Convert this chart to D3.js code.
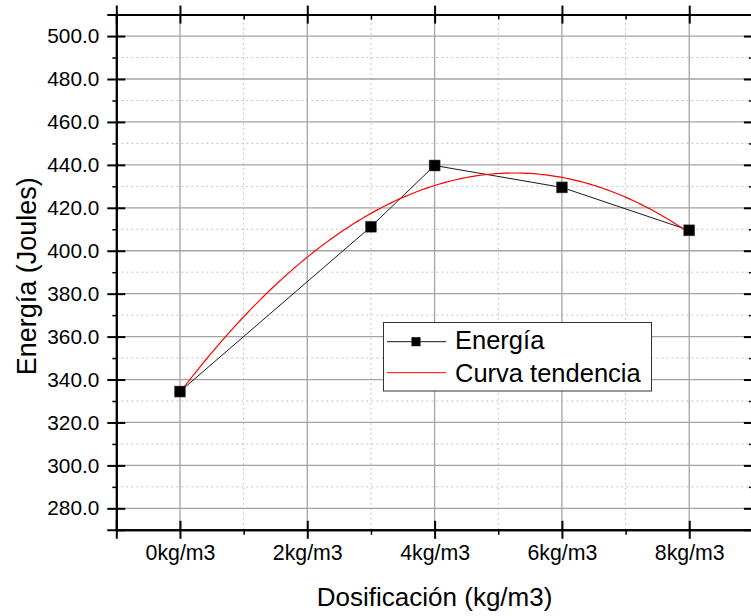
<!DOCTYPE html>
<html>
<head>
<meta charset="utf-8">
<script src="https://cdn.jsdelivr.net/npm/d3@7"></script>
<style>
  html, body { margin: 0; padding: 0; background: #fff; }
  svg { display: block; font-family: "Liberation Sans", Arial, sans-serif; }
</style>
</head>
<body>
<svg id="chart" width="751" height="616"></svg>
<script>
// Dosage (kg/m3) and measured impact energy (J)
const doses = [0, 3, 4, 6, 8];
const energy = [334.4, 411.2, 439.7, 429.5, 409.5];

// Axis ticks
const xTickValues = [0, 2, 4, 6, 8];
const xTickLabels = ["0kg/m3", "2kg/m3", "4kg/m3", "6kg/m3", "8kg/m3"];
const xMinorValues = [1, 3, 5, 7];
const yTickValues = [280, 300, 320, 340, 360, 380, 400, 420, 440, 460, 480, 500];
const yMinorValues = [290, 310, 330, 350, 370, 390, 410, 430, 450, 470, 490];

const seriesNames = ["Energía", "Curva tendencia"];

const svg = d3.select("#chart");
const x = d3.scaleLinear().domain([-1, 9]).range([116.3, 752.9]);
const y = d3.scaleLinear().domain([270, 510]).range([529.8, 14.6]);
const [x0, x1] = x.range();
const [y0, y1] = y.range();

// Grid: minor dotted, major solid
const grid = svg.append("g");
grid.selectAll(".gy-minor").data(yMinorValues).join("line")
  .attr("x1", x0).attr("x2", x1).attr("y1", d => y(d)).attr("y2", d => y(d))
  .attr("stroke", "#c4c4c4").attr("stroke-width", 1).attr("stroke-dasharray", "2,3");
grid.selectAll(".gx-minor").data(xMinorValues).join("line")
  .attr("y1", y0).attr("y2", y1).attr("x1", d => x(d)).attr("x2", d => x(d))
  .attr("stroke", "#c4c4c4").attr("stroke-width", 1).attr("stroke-dasharray", "2,3");
grid.selectAll(".gy-major").data(yTickValues).join("line")
  .attr("x1", x0).attr("x2", x1).attr("y1", d => y(d)).attr("y2", d => y(d))
  .attr("stroke", "#a3a3a3").attr("stroke-width", 1.3);
grid.selectAll(".gx-major").data(xTickValues).join("line")
  .attr("y1", y0).attr("y2", y1).attr("x1", d => x(d)).attr("x2", d => x(d))
  .attr("stroke", "#a3a3a3").attr("stroke-width", 1.3);

// Quadratic least-squares trend of the energy values
function quadFit(xs, ys) {
  let s = [0, 0, 0, 0, 0], t = [0, 0, 0];
  xs.forEach((xv, i) => {
    for (let k = 0; k < 5; k++) s[k] += Math.pow(xv, k);
    for (let k = 0; k < 3; k++) t[k] += Math.pow(xv, k) * ys[i];
  });
  const M = [[s[0], s[1], s[2], t[0]], [s[1], s[2], s[3], t[1]], [s[2], s[3], s[4], t[2]]];
  for (let i = 0; i < 3; i++) {
    for (let j = i + 1; j < 3; j++) {
      const f = M[j][i] / M[i][i];
      for (let k = i; k < 4; k++) M[j][k] -= f * M[i][k];
    }
  }
  const c = [0, 0, 0];
  for (let i = 2; i >= 0; i--) {
    let v = M[i][3];
    for (let k = i + 1; k < 3; k++) v -= M[i][k] * c[k];
    c[i] = v / M[i][i];
  }
  return xv => c[0] + c[1] * xv + c[2] * xv * xv;
}
const trend = quadFit(doses, energy);
const trendXs = d3.range(0, 8.0001, 0.05);

const plot = svg.append("g");
plot.append("path")
  .datum(doses.map((d, i) => [d, energy[i]]))
  .attr("fill", "none").attr("stroke", "#1a1a1a").attr("stroke-width", 1)
  .attr("d", d3.line().x(d => x(d[0])).y(d => y(d[1])));
plot.append("path")
  .datum(trendXs.map(d => [d, trend(d)]))
  .attr("fill", "none").attr("stroke", "#ff0000").attr("stroke-width", 1.2)
  .attr("d", d3.line().curve(d3.curveLinear).x(d => x(d[0])).y(d => y(d[1])));
const ms = 11;
plot.selectAll(".pt").data(doses.map((d, i) => [d, energy[i]])).join("rect")
  .attr("x", d => x(d[0]) - ms / 2).attr("y", d => y(d[1]) - ms / 2)
  .attr("width", ms).attr("height", ms)
  .attr("fill", "#000").attr("stroke", "#555").attr("stroke-width", 0.5);

// Frame axes with ticks crossing the frame
function styleAxis(size) {
  return g => {
    g.selectAll("path").attr("stroke", "#000").attr("stroke-width", 2);
    g.selectAll("line").attr("stroke", "#000").attr("stroke-width", 2);
    g.selectAll("text").attr("fill", "#000").attr("font-size", size)
      .attr("font-family", '"Liberation Sans", Arial, sans-serif');
  };
}
function minor(g) {
  g.selectAll("path").remove();
  g.selectAll("line").attr("stroke", "#000").attr("stroke-width", 1.5);
  g.selectAll("text").remove();
}

// bottom
svg.append("g").attr("transform", `translate(0,${y0})`)
  .call(d3.axisBottom(x).tickValues(xTickValues).tickSize(9).tickPadding(6)
    .tickFormat((d, i) => xTickLabels[i]))
  .call(styleAxis(21.3));
svg.append("g").attr("transform", `translate(0,${y0})`)
  .call(d3.axisTop(x).tickValues(xTickValues).tickSize(9).tickFormat(""))
  .call(styleAxis(20));
svg.append("g").attr("transform", `translate(0,${y0})`)
  .call(d3.axisBottom(x).tickValues(xMinorValues).tickSize(5)).call(minor);
// top
svg.append("g").attr("transform", `translate(0,${y1})`)
  .call(d3.axisTop(x).tickValues(xTickValues).tickSize(9).tickFormat(""))
  .call(styleAxis(20));
svg.append("g").attr("transform", `translate(0,${y1})`)
  .call(d3.axisBottom(x).tickValues(xTickValues).tickSize(9).tickFormat(""))
  .call(styleAxis(20));
svg.append("g").attr("transform", `translate(0,${y1})`)
  .call(d3.axisBottom(x).tickValues(xMinorValues).tickSize(5)).call(minor);
// left
svg.append("g").attr("transform", `translate(${x0},0)`)
  .call(d3.axisLeft(y).tickValues(yTickValues).tickSize(9).tickPadding(8)
    .tickFormat(d3.format(".1f")))
  .call(styleAxis(20.8));
svg.append("g").attr("transform", `translate(${x0},0)`)
  .call(d3.axisRight(y).tickValues(yTickValues).tickSize(9).tickFormat(""))
  .call(styleAxis(20));
svg.append("g").attr("transform", `translate(${x0},0)`)
  .call(d3.axisLeft(y).tickValues(yMinorValues).tickSize(4)).call(minor);
// right
svg.append("g").attr("transform", `translate(${x1},0)`)
  .call(d3.axisLeft(y).tickValues(yTickValues).tickSize(9).tickFormat(""))
  .call(styleAxis(20));
svg.append("g").attr("transform", `translate(${x1},0)`)
  .call(d3.axisLeft(y).tickValues(yMinorValues).tickSize(4)).call(minor);

// Axis titles
svg.append("text")
  .attr("x", (x0 + x1) / 2).attr("y", 606)
  .attr("text-anchor", "middle").attr("font-size", 26).attr("fill", "#000")
  .text("Dosificación (kg/m3)");
svg.append("text")
  .attr("transform", `translate(36,${(y0 + y1) / 2 + 4}) rotate(-90)`)
  .attr("text-anchor", "middle").attr("font-size", 27).attr("fill", "#000")
  .text("Energía (Joules)");

// Legend
const lg = svg.append("g");
lg.append("rect").attr("x", 383.5).attr("y", 322.5).attr("width", 268).attr("height", 68.5)
  .attr("fill", "#fff").attr("stroke", "#333").attr("stroke-width", 1);
lg.append("line").attr("x1", 387).attr("x2", 446).attr("y1", 341.7).attr("y2", 341.7)
  .attr("stroke", "#1a1a1a").attr("stroke-width", 1);
lg.append("rect").attr("x", 416 - 4.5).attr("y", 341.7 - 4.5).attr("width", 9).attr("height", 9)
  .attr("fill", "#000");
lg.append("line").attr("x1", 387).attr("x2", 446).attr("y1", 372.7).attr("y2", 372.7)
  .attr("stroke", "#ff0000").attr("stroke-width", 1);
lg.selectAll(".lt").data(seriesNames).join("text")
  .attr("x", 455).attr("y", (d, i) => [349, 382][i])
  .attr("font-size", 25.5).attr("fill", "#000")
  .text(d => d);
</script>
</body>
</html>
